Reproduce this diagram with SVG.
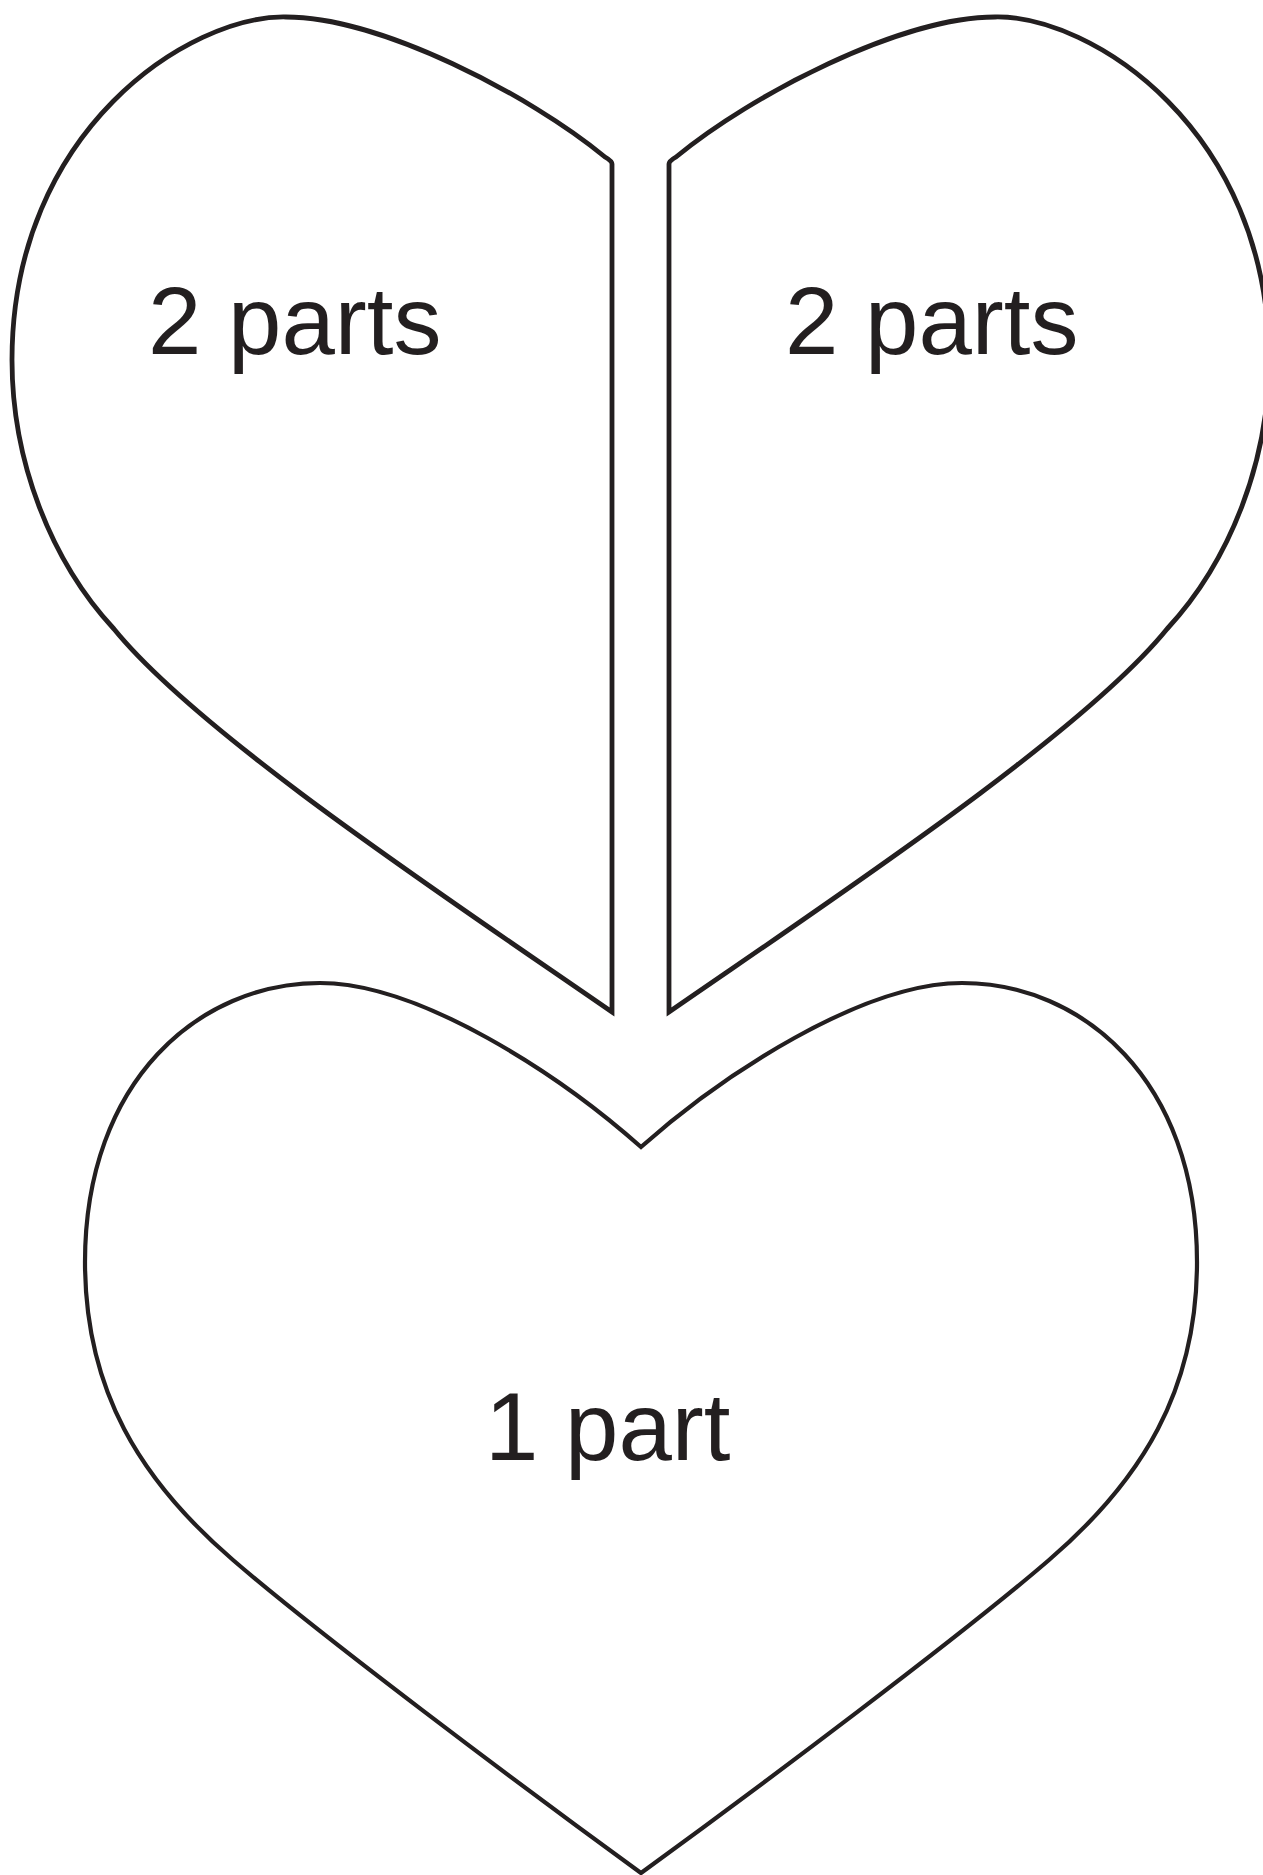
<svg xmlns="http://www.w3.org/2000/svg" width="1263" height="1875" viewBox="0 0 1263 1875">
  <style>
    .shape { fill: #ffffff; stroke: #231f20; stroke-linejoin: miter; stroke-miterlimit: 10; }
    .half { stroke-width: 4.8; }
    .whole { stroke-width: 4.2; }
    .label { font-family: "Liberation Sans", Arial, Helvetica, sans-serif; font-size: 96px; fill: #231f20; }
  </style>
  <defs>
    <path id="halfHeart" d="M 612,1012 L 612,164 Q 612,161 605,157 C 530,95 380,17 286,17 C 190,15 12,130 12,360 C 12,460 50,560 114,629 C 200,735 450,900 612,1012 Z"/>
  </defs>
  <rect x="0" y="0" width="1263" height="1875" fill="#ffffff"/>
  <g id="left-half-heart">
    <use href="#halfHeart" class="shape half"/>
    <text class="label" x="148" y="354">2 parts</text>
  </g>
  <g id="right-half-heart">
    <use href="#halfHeart" class="shape half" transform="matrix(-1 0 0 1 1281 0)"/>
    <text class="label" x="785" y="354">2 parts</text>
  </g>
  <g id="whole-heart">
    <path class="shape whole" d="M 641,1147 C 560,1075 420,983 320,983 C 200,983 85,1080 85,1262 C 85,1390 140,1480 233,1560 C 320,1635 520,1785 641,1873 C 762,1785 962,1635 1049,1560 C 1142,1480 1197,1390 1197,1262 C 1197,1080 1082,983 962,983 C 862,983 722,1075 641,1147 Z"/>
    <text class="label" x="485" y="1460">1 part</text>
  </g>
  <g id="connectors"/>
</svg>
